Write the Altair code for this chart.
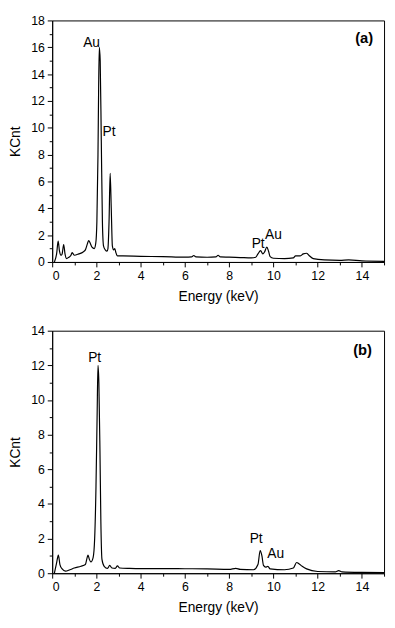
import altair as alt
import pandas as pd

# ---- spectrum (a) ----
energy_a = [0.1, 0.2, 0.27, 0.33, 0.4, 0.45, 0.52, 0.58, 0.65, 0.75, 0.85, 0.9, 0.95, 1.0, 1.2, 1.4,
            1.5, 1.6, 1.65, 1.72, 1.8, 1.9, 1.97, 2.02, 2.07, 2.1, 2.13, 2.17, 2.22, 2.27, 2.32, 2.4,
            2.48, 2.52, 2.57, 2.62, 2.67, 2.72, 2.78, 2.83, 2.88, 2.95, 3.2, 4.0, 5.0, 6.0, 6.3, 6.4,
            6.5, 7.0, 7.4, 7.5, 7.6, 8.0, 8.5, 9.0, 9.2, 9.3, 9.42, 9.52, 9.6, 9.7, 9.78, 9.85, 10.0,
            10.5, 10.9, 11.0, 11.2, 11.35, 11.5, 11.6, 11.8, 12.3, 13.0, 13.4, 14.0, 15.0]
counts_a = [0.0, 0.6, 1.55, 0.8, 0.5, 0.6, 1.3, 0.6, 0.25, 0.35, 0.5, 0.7, 0.6, 0.5, 0.6, 0.75,
            0.9, 1.4, 1.6, 1.4, 1.1, 1.0, 1.4, 3.0, 8.0, 13.0, 16.0, 15.0, 9.0, 3.0, 1.2, 0.9,
            0.8, 1.0, 3.0, 6.6, 4.0, 1.2, 0.9, 1.0, 0.7, 0.45, 0.45, 0.42, 0.40, 0.36, 0.38, 0.48,
            0.38, 0.35, 0.38, 0.50, 0.38, 0.36, 0.33, 0.30, 0.35, 0.6, 0.85, 0.6, 0.75, 1.1, 0.8, 0.4, 0.28,
            0.25, 0.3, 0.45, 0.45, 0.6, 0.65, 0.5, 0.25, 0.15, 0.12, 0.15, 0.08, 0.05]

# ---- spectrum (b) ----
energy_b = [0.1, 0.2, 0.28, 0.35, 0.45, 0.6, 0.8, 1.0, 1.3, 1.5, 1.58, 1.62, 1.68, 1.75, 1.85, 1.92,
            1.98, 2.03, 2.07, 2.11, 2.16, 2.2, 2.25, 2.35, 2.5, 2.6, 2.7, 2.85, 2.95, 3.05, 3.5, 4.0,
            5.0, 6.0, 7.0, 8.0, 8.3, 8.5, 9.1, 9.3, 9.4, 9.48, 9.55, 9.65, 9.75, 9.85, 10.5, 10.9,
            11.05, 11.15, 11.3, 11.5, 12.0, 12.8, 12.95, 13.1, 14.0, 15.0]
counts_b = [0.0, 0.6, 1.05, 0.5, 0.25, 0.12, 0.2, 0.3, 0.4, 0.5, 0.9, 1.05, 0.8, 0.65, 0.9, 2.0,
            5.0, 9.0, 12.0, 11.0, 7.0, 3.0, 0.8, 0.4, 0.28, 0.45, 0.3, 0.28, 0.42, 0.3, 0.28, 0.27,
            0.27, 0.26, 0.25, 0.22, 0.28, 0.22, 0.2, 0.5, 1.3, 1.0, 0.45, 0.35, 0.4, 0.25, 0.2, 0.3,
            0.62, 0.55, 0.4, 0.25, 0.1, 0.08, 0.15, 0.08, 0.05, 0.04]

# ---- annotations ----
labels_a = ["Au", "Pt", "Pt", "Au"]
label_x_a = [1.78, 2.57, 9.31, 10.0]
label_y_a = [16.3, 9.7, 1.37, 1.97]
labels_b = ["Pt", "Pt", "Au"]
label_x_b = [1.92, 9.22, 10.1]
label_y_b = [12.4, 1.98, 1.1]
panel_tags = ["(a)", "(b)"]
tag_x = [14.1, 14.03]
tag_y = [16.7, 12.9]

FONT = "Liberation Sans"
W = 338


def panel(ex, cy, labs, lx, ly, tag, tx, ty, ymax, h):
    spec = pd.DataFrame({"E": ex, "K": cy})
    ann = pd.DataFrame({"t": labs, "E": lx, "K": ly})
    tagdf = pd.DataFrame({"t": [tag], "E": [tx], "K": [ty]})
    xvals = list(range(0, 16))
    yvals = list(range(0, ymax + 1))
    cond_tick = {"condition": {"test": "datum.value % 2 == 0", "value": 5}, "value": 3}
    xs = alt.X("E:Q", scale=alt.Scale(domain=[0, 15], nice=False, zero=False),
               axis=alt.Axis(title="Energy (keV)", values=xvals, labelOverlap=False,
                             labelExpr="datum.value % 2 == 0 ? datum.label : ''",
                             tickSize=cond_tick, grid=False, labelPadding=3, titlePadding=8))
    ys = alt.Y("K:Q", scale=alt.Scale(domain=[0, ymax], nice=False),
               axis=alt.Axis(title="KCnt", values=yvals, labelOverlap=False,
                             labelExpr="datum.value % 2 == 0 ? datum.label : ''",
                             tickSize=cond_tick, grid=False, labelPadding=3, titlePadding=8))
    line = alt.Chart(spec).mark_line(color="black", strokeWidth=1.2, interpolate="monotone").encode(
        x=xs, y=ys)
    txt = alt.Chart(ann).mark_text(font=FONT, fontSize=14, color="black", baseline="middle",
                                   align="center").encode(x=xs, y=ys, text="t:N")
    tg = alt.Chart(tagdf).mark_text(font=FONT, fontSize=15, fontWeight="bold", color="black",
                                    baseline="middle", align="center").encode(x=xs, y=ys, text="t:N")
    return alt.layer(line, txt, tg).properties(width=W, height=h)


top = panel(energy_a, counts_a, labels_a, label_x_a, label_y_a, panel_tags[0], tag_x[0], tag_y[0], 18, 246)
bottom = panel(energy_b, counts_b, labels_b, label_x_b, label_y_b, panel_tags[1], tag_x[1], tag_y[1], 14, 247)

chart = alt.vconcat(top, bottom, spacing=20, padding=0).configure_view(
    stroke="black", strokeWidth=1
).configure_axis(
    labelFont=FONT, titleFont=FONT, labelFontSize=12.5, titleFontSize=14, titleFontWeight="normal",
    labelColor="black", titleColor="black", domainColor="black", tickColor="black",
    labelOverlap=False
)

chart.save("out.html", embed_options={"renderer": "svg", "actions": False})
